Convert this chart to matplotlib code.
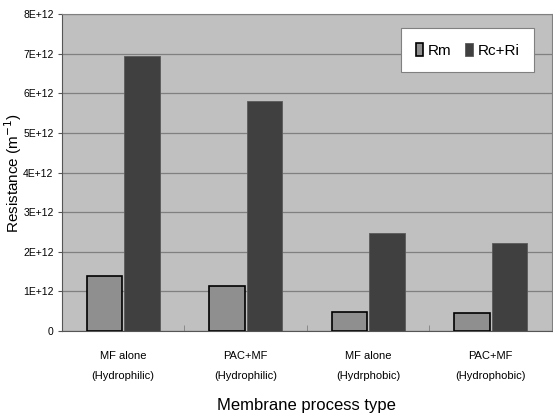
import numpy as np
import matplotlib.pyplot as plt
from matplotlib.ticker import FixedLocator

plt.rcParams['font.family'] = ['Liberation Sans', 'DejaVu Sans']

categories = ['MF alone\n(Hydrophilic)', 'PAC+MF\n(Hydrophilic)',
              'MF alone\n(Hydrphobic)', 'PAC+MF\n(Hydrophobic)']
rm = [1.39e12, 1.14e12, 0.48e12, 0.45e12]
rc_ri = [6.94e12, 5.82e12, 2.47e12, 2.22e12]
ytick_labels = ['0', '1E+12', '2E+12', '3E+12', '4E+12', '5E+12', '6E+12', '7E+12', '8E+12']

fig = plt.figure(figsize=(5.53, 4.18), dpi=100)
ax = fig.add_axes([0.112, 0.208, 0.886, 0.758])
ax.set_facecolor('#c0c0c0')

x = np.arange(len(categories))
w = 0.29
ax.bar(x - w / 2 - 0.008, rm, w, color='#8f8f8f', edgecolor='black', linewidth=1.2, label='Rm', zorder=3)
ax.bar(x + w / 2 + 0.008, rc_ri, w, color='#404040', edgecolor='#5a5a5a', linewidth=0.6, label='Rc+Ri', zorder=3)

ax.set_xlim(-0.5, 3.5)
ax.set_ylim(0, 8e12)
ax.set_yticks(np.arange(0, 9) * 1e12)
ax.set_yticklabels(ytick_labels)
ax.yaxis.grid(True, color='#808080', linewidth=0.9, zorder=0)
ax.set_xticks(x)
ax.set_xticklabels(categories, fontsize=8, linespacing=2.3)
ax.tick_params(axis='x', length=0, pad=14)
ax.xaxis.set_minor_locator(FixedLocator([0.5, 1.5, 2.5]))
ax.tick_params(axis='x', which='minor', direction='in', length=4, color='#808080')
ax.tick_params(axis='y', length=3, labelsize=7.5, color='#555555', pad=3)

for s in ['top', 'right']:
    ax.spines[s].set_color('#808080')
for s in ['left', 'bottom']:
    ax.spines[s].set_color('#555555')

ax.set_ylabel('Resistance (m$^{-1}$)', fontsize=11)
ax.yaxis.set_label_coords(-0.077, 0.5)
ax.set_xlabel('Membrane process type', fontsize=12, labelpad=12)

leg = ax.legend(loc='upper right', bbox_to_anchor=(0.963, 0.956), borderaxespad=0, ncol=2, fontsize=11,
                frameon=True, fancybox=False, handlelength=0.5, handleheight=1.0,
                handletextpad=0.3, columnspacing=0.9, borderpad=0.95)
leg.get_frame().set_edgecolor('#808080')
leg.get_frame().set_linewidth(0.8)
leg.get_frame().set_alpha(1)

fig.savefig('out.png', dpi=100)
